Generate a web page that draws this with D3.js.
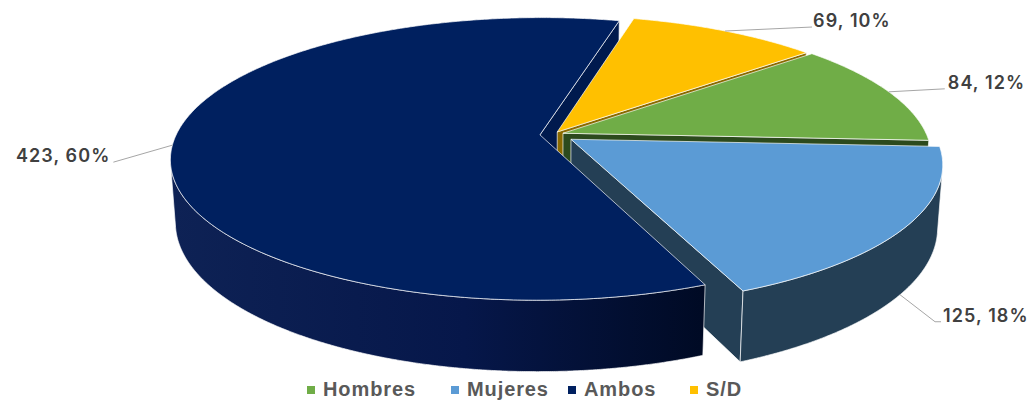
<!DOCTYPE html>
<html>
<head>
<meta charset="utf-8">
<script src="https://cdn.jsdelivr.net/npm/d3@7"></script>
<style>
  body { margin: 0; background: #ffffff; }
  svg { display: block; }
</style>
</head>
<body>
<svg id="chart" width="1032" height="400"></svg>
<script>
// ---- data ----
const categories = ["Hombres", "Mujeres", "Ambos", "S/D"];
const values = [84, 125, 423, 69];

// ---- styling ----
const topColors  = ["#70AD47", "#5B9BD5", "#00205F", "#FFC000"];
const sideColors = ["#2C4A1D", "#243F55", "#0A1B4A", "#7E5F00"];
const endColors  = ["#2C4A1D", "#243F55", "#001A4E", "#8A6A00"];
const legendColors = ["#70AD47", "#5B9BD5", "#002060", "#FFC000"];
const explode = [0.029, 0.06, 0.036, 0.022];   // radial offset of each slice, in radii

const deg = Math.PI / 180;
const view = {
  cx: 553, cy: 134.5,      // screen position of the pie centre
  scale: 363.6,            // pixels per radius at the centre depth
  tilt: 22.15 * deg,       // camera elevation
  dist: 5.45,              // camera distance, in radii
  depth: 0.185,            // thickness of the pie, in radii
  start: 49.8 * deg        // angle where the first slice begins
};

// leader lines: offsets from the anchor point on the rim
const labelLayout = [
  { rim: "top",    leader: [[56, -3]],           textDx: 3,  align: "start" },
  { rim: "bottom", leader: [[35, 27], [41, 27]], textDx: 2,  align: "start" },
  { rim: "top",    leader: [[-59, 17]],          textDx: -3, align: "end" },
  { rim: "top",    leader: [[87, -4]],           textDx: 1,  align: "start" }
];
const legendX = [307, 451, 568, 690];

// ---- geometry ----
const svg = d3.select("#chart");
const total = d3.sum(values);
const pie = d3.pie().sort(null).value(d => d)
  .startAngle(view.start).endAngle(view.start + 2 * Math.PI);
const arcs = pie(values);

const sa = Math.sin(view.tilt), ca = Math.cos(view.tilt);
const cam = [0, view.dist * sa, view.dist * ca];
function project(p) {
  const f = view.dist / (view.dist - p[1] * sa - p[2] * ca);
  return [view.cx + view.scale * p[0] * f, view.cy - view.scale * (p[1] * ca - p[2] * sa) * f];
}
function facing(p, n) {
  return n[0] * (cam[0] - p[0]) + n[1] * (cam[1] - p[1]) + n[2] * (cam[2] - p[2]) > 0;
}
const line = d3.line();
const H = -view.depth;

const slices = arcs.map((a, i) => {
  const mid = (a.startAngle + a.endAngle) / 2;
  return { i, a0: a.startAngle, a1: a.endAngle, mid,
           ox: explode[i] * Math.sin(mid), oz: -explode[i] * Math.cos(mid) };
});
const rimPt = (s, t, y) => [s.ox + Math.sin(t), y, s.oz - Math.cos(t)];
const apex = (s, y) => [s.ox, y, s.oz];
function samples(t0, t1, step) {
  const n = Math.max(2, Math.ceil((t1 - t0) / step));
  return d3.range(n + 1).map(k => t0 + (t1 - t0) * k / n);
}
const poly = pts => line(pts.map(project)) + "Z";

// gradient for the long front wall of the large slice
const defs = svg.append("defs");
const grad = defs.append("linearGradient").attr("id", "wallShade")
  .attr("x1", 0).attr("x2", 1).attr("y1", 0).attr("y2", 0);
grad.append("stop").attr("offset", 0).attr("stop-color", "#0E2255");
grad.append("stop").attr("offset", 0.55).attr("stop-color", "#06174A");
grad.append("stop").attr("offset", 1).attr("stop-color", "#000A24");

const edge = { stroke: "rgba(255,255,255,0.75)", width: 0.9 };
const gPie = svg.append("g");

// 1) radial faces, far ones first
const radial = [];
slices.forEach(s => {
  [[s.a0, -1], [s.a1, 1]].forEach(([t, sign]) => {
    const n = [sign * Math.cos(t), 0, sign * Math.sin(t)];
    const c = [s.ox + 0.5 * Math.sin(t), H / 2, s.oz - 0.5 * Math.cos(t)];
    if (facing(c, n)) {
      radial.push({ s, z: c[2],
        pts: [apex(s, 0), rimPt(s, t, 0), rimPt(s, t, H), apex(s, H)] });
    }
  });
});
radial.sort((a, b) => a.z - b.z);
gPie.selectAll("path.radial").data(radial).join("path")
  .attr("class", "radial")
  .attr("d", f => poly(f.pts))
  .attr("fill", f => endColors[f.s.i])
  .attr("stroke", edge.stroke).attr("stroke-width", edge.width)
  .attr("stroke-linejoin", "round");

// 2) visible parts of the outer walls
const walls = [];
slices.forEach(s => {
  const ts = samples(s.a0, s.a1, 0.25 * deg);
  let run = [];
  const flush = () => { if (run.length > 1) walls.push({ s, ts: run }); run = []; };
  ts.forEach(t => {
    const p = rimPt(s, t, H / 2);
    const n = [Math.sin(t), 0, -Math.cos(t)];
    if (facing(p, n)) run.push(t); else flush();
  });
  flush();
});
gPie.selectAll("path.wall").data(walls).join("path")
  .attr("class", "wall")
  .attr("d", w => poly(w.ts.map(t => rimPt(w.s, t, 0))
                  .concat(w.ts.slice().reverse().map(t => rimPt(w.s, t, H)))))
  .attr("fill", w => w.s.i === 2 ? "url(#wallShade)" : sideColors[w.s.i])
  .attr("stroke", edge.stroke).attr("stroke-width", edge.width)
  .attr("stroke-linejoin", "round");

// 3) top faces
gPie.selectAll("path.top").data(slices).join("path")
  .attr("class", "top")
  .attr("d", s => poly([apex(s, 0)].concat(samples(s.a0, s.a1, 0.5 * deg).map(t => rimPt(s, t, 0)))))
  .attr("fill", s => topColors[s.i])
  .attr("stroke", edge.stroke).attr("stroke-width", edge.width)
  .attr("stroke-linejoin", "round");

// ---- data labels with leader lines ----
const gLab = svg.append("g");
slices.forEach(s => {
  const L = labelLayout[s.i];
  const a = project(rimPt(s, s.mid, L.rim === "top" ? 0 : H));
  const pts = [a].concat(L.leader.map(([dx, dy]) => [a[0] + dx, a[1] + dy]));
  gLab.append("path").attr("d", line(pts))
    .attr("fill", "none").attr("stroke", "#A6A6A6").attr("stroke-width", 1);
  const end = pts[pts.length - 1];
  gLab.append("text")
    .attr("x", end[0] + L.textDx).attr("y", end[1])
    .attr("text-anchor", L.align)
    .attr("font-family", "Inter, 'Open Sans', sans-serif")
    .attr("font-weight", 600).attr("font-size", 18)
    .attr("letter-spacing", 1.1)
    .attr("fill", "#404040")
    .text(`${values[s.i]}, ${Math.round(values[s.i] / total * 100)}%`);
});

// ---- legend ----
const gLeg = svg.append("g");
categories.forEach((c, i) => {
  gLeg.append("rect").attr("x", legendX[i]).attr("y", 386)
    .attr("width", 8).attr("height", 8).attr("fill", legendColors[i]);
  gLeg.append("text").attr("x", legendX[i] + 16).attr("y", 396)
    .attr("font-family", "'Liberation Sans', Arial, sans-serif")
    .attr("font-weight", 700).attr("font-size", 20)
    .attr("letter-spacing", 0.9)
    .attr("fill", "#595959").text(c);
});
</script>
</body>
</html>
